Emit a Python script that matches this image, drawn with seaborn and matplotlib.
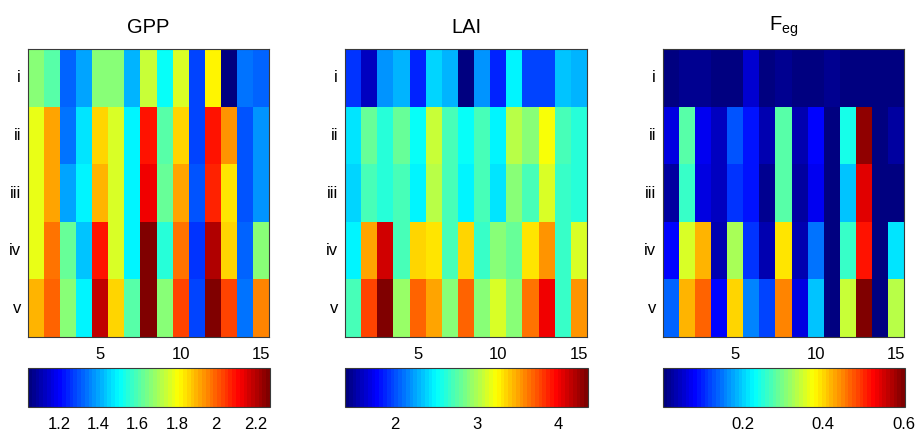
import numpy as np
import pandas as pd
import matplotlib
matplotlib.use("Agg")
import matplotlib.pyplot as plt
import seaborn as sns
from matplotlib.colors import LinearSegmentedColormap
from matplotlib.ticker import FormatStrFormatter

# ---------------- data ----------------
rows = ["i", "ii", "iii", "iv", "v"]
columns = list(range(1, 16))
x_tick_labels = ["5", "10", "15"]

gpp_i   = [1.66, 1.61, 1.33, 1.39, 1.66, 1.67, 1.41, 1.75, 1.51, 1.76, 1.28, 1.82, 1.042, 1.34, 1.33]
gpp_ii  = [1.79, 1.91, 1.35, 1.47, 1.86, 1.76, 1.50, 2.10, 1.61, 1.87, 1.28, 2.09, 1.93, 1.30, 1.38]
gpp_iii = [1.79, 1.91, 1.40, 1.49, 1.89, 1.76, 1.50, 2.14, 1.63, 1.91, 1.30, 2.07, 1.84, 1.30, 1.38]
gpp_iv  = [1.79, 1.97, 1.62, 1.44, 2.10, 1.77, 1.49, 2.26, 1.56, 1.98, 1.26, 2.21, 1.87, 1.33, 1.67]
gpp_v   = [1.89, 1.99, 1.66, 1.49, 2.19, 1.86, 1.61, 2.275, 1.66, 2.04, 1.28, 2.275, 2.03, 1.34, 1.95]

lai_i   = [1.93, 1.60, 2.19, 2.28, 1.87, 2.37, 2.28, 1.39, 2.19, 1.87, 2.46, 1.95, 1.95, 2.34, 2.28]
lai_ii  = [2.43, 2.79, 2.64, 2.82, 2.52, 3.08, 2.70, 2.52, 2.70, 2.46, 3.02, 2.88, 3.20, 2.70, 2.64]
lai_iii = [2.37, 2.70, 2.64, 2.73, 2.46, 3.02, 2.70, 2.46, 2.70, 2.43, 2.91, 2.73, 3.11, 2.67, 2.64]
lai_iv  = [2.46, 3.50, 4.09, 2.73, 3.38, 3.32, 2.73, 3.35, 2.67, 2.91, 2.79, 3.32, 3.53, 2.67, 3.11]
lai_v   = [2.73, 3.77, 4.36, 2.93, 3.68, 3.50, 2.91, 3.68, 2.91, 3.14, 2.91, 3.62, 4.03, 2.67, 3.53]

feg_i   = [0.000, 0.018, 0.018, 0.003, 0.003, 0.048, 0.006, 0.012, 0.006, 0.006, 0.012, 0.006, 0.006, 0.006, 0.006]
feg_ii  = [0.066, 0.278, 0.072, 0.042, 0.127, 0.085, 0.030, 0.278, 0.030, 0.079, 0.006, 0.242, 0.592, 0.006, 0.024]
feg_iii = [0.024, 0.260, 0.066, 0.042, 0.109, 0.085, 0.015, 0.278, 0.024, 0.072, 0.006, 0.193, 0.538, 0.006, 0.006]
feg_iv  = [0.079, 0.350, 0.417, 0.030, 0.326, 0.109, 0.036, 0.387, 0.030, 0.145, 0.006, 0.260, 0.519, 0.006, 0.217]
feg_v   = [0.139, 0.417, 0.465, 0.079, 0.399, 0.151, 0.115, 0.447, 0.066, 0.193, 0.006, 0.344, 0.604, 0.006, 0.338]

gpp_cbar_ticks = [1.2, 1.4, 1.6, 1.8, 2.0, 2.2]
lai_cbar_ticks = [2, 3, 4]
feg_cbar_ticks = [0.2, 0.4, 0.6]

titles = ["GPP", "LAI", r"F$_{eg}$"]

# ---------------- style ----------------
sns.set_style("white")
plt.rcParams["font.family"] = ["Liberation Sans", "DejaVu Sans"]
plt.rcParams["mathtext.default"] = "regular"
plt.rcParams["mathtext.fontset"] = "custom"
plt.rcParams["mathtext.rm"] = "Liberation Sans"
plt.rcParams["text.color"] = "black"

jet_m = LinearSegmentedColormap.from_list(
    "jet_matlab",
    [(0.0, (0, 0, 0.5)), (1 / 8, (0, 0, 1)), (3 / 8, (0, 1, 1)),
     (5 / 8, (1, 1, 0)), (7 / 8, (1, 0, 0)), (1.0, (0.5, 0, 0))],
    N=64,
)

W, H = 916, 432
fig = plt.figure(figsize=(W / 100, H / 100), dpi=100)

panels = [
    (pd.DataFrame([gpp_i, gpp_ii, gpp_iii, gpp_iv, gpp_v], index=rows, columns=columns), gpp_cbar_ticks, "%g"),
    (pd.DataFrame([lai_i, lai_ii, lai_iii, lai_iv, lai_v], index=rows, columns=columns), lai_cbar_ticks, "%g"),
    (pd.DataFrame([feg_i, feg_ii, feg_iii, feg_iv, feg_v], index=rows, columns=columns), feg_cbar_ticks, "%g"),
]

ax_x = [(28, 269), (345, 587), (663, 904)]
ax_y = (49, 337)
cb_y = (368, 407)
frame_col = "#3a3a3a"

for k, ((df, cticks, fmt), (x0, x1)) in enumerate(zip(panels, ax_x)):
    ax = fig.add_axes([x0 / W, 1 - ax_y[1] / H, (x1 - x0) / W, (ax_y[1] - ax_y[0]) / H])
    cax = fig.add_axes([x0 / W, 1 - cb_y[1] / H, (x1 + 1 - x0) / W, (cb_y[1] - cb_y[0]) / H])
    sns.heatmap(df, cmap=jet_m, ax=ax, cbar_ax=cax,
                cbar_kws={"orientation": "horizontal", "ticks": cticks},
                xticklabels=False, yticklabels=True)

    xt = [columns.index(int(l)) + 0.5 for l in x_tick_labels]
    ax.set_xticks(xt)
    ax.set_xticklabels(x_tick_labels)
    ax.set_yticks(np.arange(len(rows)) + 0.5)
    ax.set_yticklabels(rows, rotation=0)
    ax.set_xlabel("")
    ax.set_ylabel("")
    for s in ax.spines.values():
        s.set_visible(True)
        s.set_color(frame_col)
        s.set_linewidth(0.8)
    ax.tick_params(axis="x", direction="in", top=True, bottom=True, length=3,
                   width=0.7, color=frame_col, labelcolor="black", labelsize=12, pad=7)
    ax.tick_params(axis="y", direction="in", left=True, right=True, length=3,
                   width=0.7, color=frame_col, labelcolor="black", labelsize=12, pad=5)

    pad = 11.5 if k < 2 else 13.5
    ax.set_title(titles[k], fontsize=14.5, pad=pad, color="black")

    cb = ax.collections[0].colorbar
    cb.outline.set_edgecolor(frame_col)
    cb.outline.set_linewidth(0.8)
    cax.xaxis.set_major_formatter(FormatStrFormatter(fmt))
    cax.tick_params(axis="x", direction="in", top=True, bottom=True, length=3,
                    width=0.7, color=frame_col, labelcolor="black", labelsize=12, pad=7.5)

fig.savefig("out.png", dpi=100)
